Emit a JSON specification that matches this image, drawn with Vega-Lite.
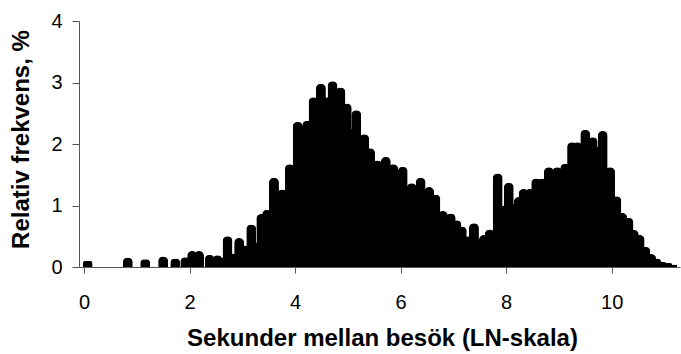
{
  "$schema": "https://vega.github.io/schema/vega-lite/v6.json",
  "autosize": {"type": "none"},
  "padding": {"left": 79, "top": 21, "right": 1, "bottom": 87},
  "width": 601,
  "height": 246,
  "background": "white",
  "config": {"view": {"stroke": null}},
  "data": {"values": [
    {"x": 0.07, "y": 0.1}, {"x": 0.83, "y": 0.15}, {"x": 1.16, "y": 0.125}, {"x": 1.5, "y": 0.17},
    {"x": 1.73, "y": 0.14}, {"x": 1.92, "y": 0.16}, {"x": 2.05, "y": 0.26}, {"x": 2.18, "y": 0.26},
    {"x": 2.38, "y": 0.2}, {"x": 2.53, "y": 0.19}, {"x": 2.62, "y": 0.15}, {"x": 2.72, "y": 0.5},
    {"x": 2.83, "y": 0.22}, {"x": 2.94, "y": 0.47}, {"x": 3.05, "y": 0.35}, {"x": 3.17, "y": 0.69},
    {"x": 3.27, "y": 0.4}, {"x": 3.36, "y": 0.86}, {"x": 3.47, "y": 0.93}, {"x": 3.6, "y": 1.45},
    {"x": 3.76, "y": 1.26}, {"x": 3.9, "y": 1.67}, {"x": 4.05, "y": 2.36}, {"x": 4.14, "y": 2.3},
    {"x": 4.23, "y": 2.38}, {"x": 4.35, "y": 2.76}, {"x": 4.49, "y": 2.98}, {"x": 4.6, "y": 2.76},
    {"x": 4.71, "y": 3.02}, {"x": 4.86, "y": 2.92}, {"x": 4.98, "y": 2.66}, {"x": 5.07, "y": 2.25},
    {"x": 5.16, "y": 2.55}, {"x": 5.31, "y": 2.16}, {"x": 5.42, "y": 1.93}, {"x": 5.56, "y": 1.73},
    {"x": 5.72, "y": 1.79}, {"x": 5.86, "y": 1.67}, {"x": 6.04, "y": 1.63}, {"x": 6.21, "y": 1.36},
    {"x": 6.38, "y": 1.45}, {"x": 6.54, "y": 1.3}, {"x": 6.66, "y": 1.18}, {"x": 6.8, "y": 0.91},
    {"x": 6.95, "y": 0.87}, {"x": 7.06, "y": 0.76}, {"x": 7.16, "y": 0.66}, {"x": 7.27, "y": 0.5},
    {"x": 7.39, "y": 0.71}, {"x": 7.49, "y": 0.45}, {"x": 7.58, "y": 0.52}, {"x": 7.69, "y": 0.61},
    {"x": 7.84, "y": 1.52}, {"x": 7.95, "y": 1.0}, {"x": 8.05, "y": 1.37}, {"x": 8.15, "y": 1.03},
    {"x": 8.24, "y": 1.14}, {"x": 8.33, "y": 1.27}, {"x": 8.45, "y": 1.27}, {"x": 8.57, "y": 1.44},
    {"x": 8.68, "y": 1.44}, {"x": 8.81, "y": 1.62}, {"x": 8.97, "y": 1.62}, {"x": 9.12, "y": 1.68},
    {"x": 9.25, "y": 2.03}, {"x": 9.35, "y": 2.03}, {"x": 9.5, "y": 2.23}, {"x": 9.64, "y": 2.11},
    {"x": 9.72, "y": 1.95}, {"x": 9.83, "y": 2.21}, {"x": 9.97, "y": 1.62}, {"x": 10.09, "y": 1.15},
    {"x": 10.2, "y": 0.88}, {"x": 10.32, "y": 0.8}, {"x": 10.42, "y": 0.6}, {"x": 10.53, "y": 0.52},
    {"x": 10.64, "y": 0.33}, {"x": 10.75, "y": 0.21}, {"x": 10.85, "y": 0.14}, {"x": 10.95, "y": 0.08},
    {"x": 11.05, "y": 0.07}, {"x": 11.15, "y": 0.04}
  ]},
  "mark": {"type": "bar", "color": "black", "size": 10, "cornerRadiusTopLeft": 5, "cornerRadiusTopRight": 5},
  "encoding": {
    "x": {
      "field": "x", "type": "quantitative",
      "scale": {"domain": [0, 11.2], "nice": false, "zero": false},
      "axis": {
        "title": "Sekunder mellan besök (LN-skala)",
        "values": [0, 2, 4, 6, 8, 10],
        "grid": false,
        "domainColor": "#555", "tickColor": "#555", "tickSize": 6,
        "labelFont": "Liberation Sans", "labelFontSize": 20, "labelColor": "black", "labelPadding": 19,
        "labelFlush": false,
        "titleFont": "Liberation Sans", "titleFontSize": 24, "titleFontWeight": "bold", "titleColor": "black",
        "titleBaseline": "alphabetic", "titleY": 78, "titleX": 303
      }
    },
    "y": {
      "field": "y", "type": "quantitative",
      "scale": {"domain": [0, 4], "nice": false},
      "axis": {
        "title": "Relativ frekvens, %",
        "values": [0, 1, 2, 3, 4],
        "grid": false,
        "domainColor": "#555", "tickColor": "#555", "tickSize": 7,
        "labelFont": "Liberation Sans", "labelFontSize": 20, "labelColor": "black", "labelPadding": 10,
        "labelFlush": false,
        "titleFont": "Liberation Sans", "titleFontSize": 24, "titleFontWeight": "bold", "titleColor": "black",
        "titleAngle": -90, "titleBaseline": "alphabetic", "titleAlign": "center",
        "titleX": -51, "titleY": 118
      }
    }
  }
}
